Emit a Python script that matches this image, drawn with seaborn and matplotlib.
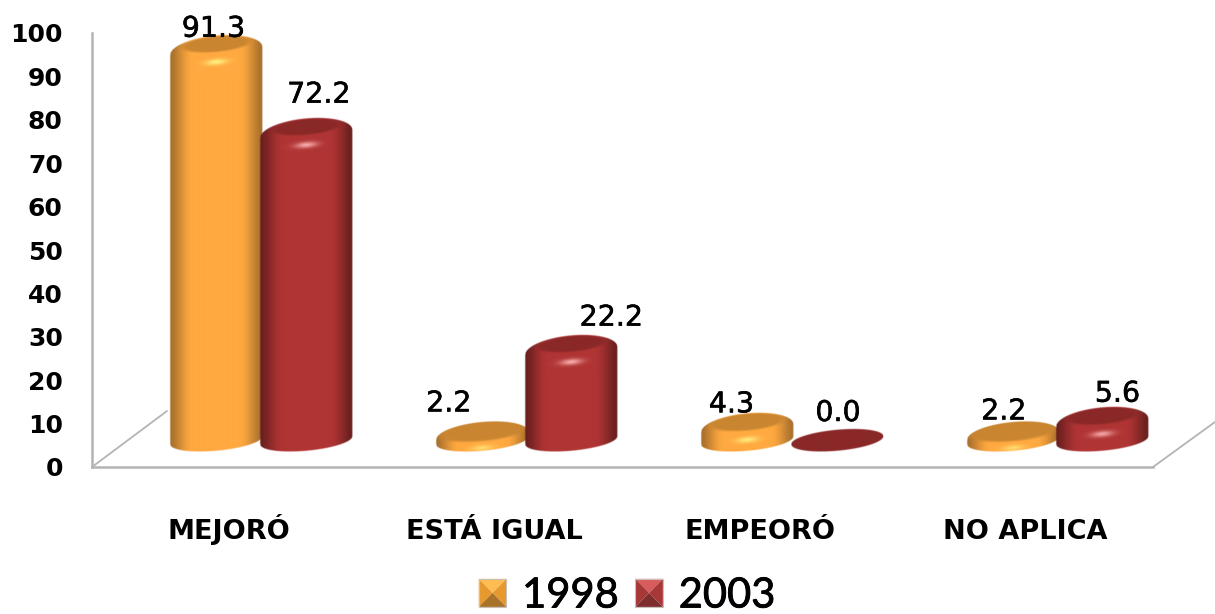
import numpy as np
import pandas as pd
import matplotlib
matplotlib.use("Agg")
import matplotlib.pyplot as plt
import matplotlib.patheffects as pe
from matplotlib.colors import to_rgb
from matplotlib.lines import Line2D
from matplotlib.patches import Polygon, Rectangle, Patch
from matplotlib.legend_handler import HandlerBase
from matplotlib.transforms import Affine2D
import seaborn as sns

categories = ["MEJORÓ", "ESTÁ IGUAL", "EMPEORÓ", "NO APLICA"]
years = ["1998", "2003"]
values_1998 = [91.3, 2.2, 4.3, 2.2]
values_2003 = [72.2, 22.2, 0.0, 5.6]
y_ticks = [0, 10, 20, 30, 40, 50, 60, 70, 80, 90, 100]

# label nudges in pixels (dx, dy up) from the top of each cylinder
nudges = {"1998": [(-3, 15), (-33, 27), (-16, 17), (-9, 19)],
          "2003": [(13, 32), (40, 26), (1, 27), (15, 22)]}

STYLE = {
    "1998": dict(center="#FFA940", edge="#A8702C", cap="#C98530", glow="#FFEE80",
                 top="#FFBC50", side="#E8992E", bottom="#A97229"),
    "2003": dict(center="#B03434", edge="#6A1F1F", cap="#8A2828", glow="#F8A8A8",
                 top="#D85C5C", side="#A83838", bottom="#7E2C2C"),
}
GRAY = "#B4B4B4"
W, H = 1215, 614

sns.set_theme(style="white")
plt.rcParams["font.family"] = ["DejaVu Sans"]
plt.rcParams["text.color"] = "black"
plt.rcParams["xtick.color"] = "black"
plt.rcParams["ytick.color"] = "black"

fig = plt.figure(figsize=(W / 100, H / 100), dpi=100)
px = Affine2D().scale(1 / W, -1 / H).translate(0, 1) + fig.transFigure

# front frame: value axis and category axis
frame = fig.add_axes([92 / W, (H - 467) / H, 1061 / W, 434 / H])
frame.set_xlim(-0.517, 3.483)
frame.set_ylim(0, 100)
frame.set_yticks(y_ticks)
frame.set_xticks(range(len(categories)))
frame.set_xticklabels(categories, fontsize=19.5, fontweight="bold", va="baseline")
frame.set_yticklabels([str(t) for t in y_ticks], fontsize=18, fontweight="bold")
frame.tick_params(axis="y", length=0, pad=21)
frame.tick_params(axis="x", length=0, pad=52)
for s in ("top", "right"):
    frame.spines[s].set_visible(False)
for s in ("left", "bottom"):
    frame.spines[s].set_color(GRAY)
    frame.spines[s].set_linewidth(1.8)
frame.patch.set_alpha(0)
for pts in ([(92, 467), (167, 411)], [(1153, 467), (1215, 422)]):
    fig.add_artist(Line2D(*zip(*pts), transform=px, color=GRAY, lw=1.3))

# cylinders: seaborn lays out the bars, they are then shaded
ax = fig.add_axes([128.5 / W, (H - 440) / H, 1062 / W, 434 / H])
ax.patch.set_alpha(0)
ax.axis("off")
df = pd.DataFrame({
    "category": categories * 2,
    "year": [years[0]] * 4 + [years[1]] * 4,
    "value": values_1998 + values_2003,
})
sns.barplot(data=df, x="category", y="value", hue="year", hue_order=years,
            order=categories, width=0.675, gap=0, legend=False, ax=ax)
ax.set_xlim(-0.5, 3.5)
ax.set_ylim(0, 100)
PX_X = 1062 / 4
PX_Y = 4.34
B, SLOPE = 10.5, 0.087


def smooth(t):
    t = np.clip(t, 0, 1)
    return t * t * (3 - 2 * t)


def cylinder(bar, st, z):
    a = bar.get_width() * PX_X / 2 + 1.5
    T = bar.get_height() * PX_Y
    cx = bar.get_x() + bar.get_width() / 2
    k = np.exp(-T / 8)
    pad = 3
    ymin, ymax = -B - a * SLOPE - pad, T + B + a * SLOPE + pad + 4
    xs = np.arange(-a - pad, a + pad + 0.5, 0.5)
    ys = np.arange(ymin, ymax + 0.5, 0.5)
    X, Y = np.meshgrid(xs, ys)
    u = X / a
    yy = Y - SLOPE * X
    arc = B * np.sqrt(np.clip(1 - u ** 2, 0, 1))
    top_b = B + 5 * (1 - k)
    top_c = T - 7 * (1 - k)
    arc_top = top_b * np.sqrt(np.clip(1 - u ** 2, 0, 1))
    alpha = (smooth((a - np.abs(X)) / 1.2 + 0.5)
             * smooth((yy + arc) / 1.2 + 0.5)
             * smooth((top_c + arc_top - yy) / 1.2 + 0.5))
    f = smooth((1 - np.abs(u)) / 0.5) ** 0.8
    c0, c1 = np.array(to_rgb(st["center"])), np.array(to_rgb(st["edge"]))
    rgb = c1[None, None] + (c0 - c1)[None, None] * f[..., None]
    s = 1 + k
    d = np.sqrt((u / (0.72 * s)) ** 2 + ((yy - T) / (7.5 * s)) ** 2)
    cap = smooth((1.2 - d) / 0.35)[..., None]
    capc = np.array(to_rgb(st["cap"]))
    rgb = rgb * (1 - cap) + capc[None, None] * cap
    glow_y = max(T - 18, -B * 0.72)
    glow = (1 - k) * np.exp(-(u / 0.24) ** 2 - ((yy - glow_y) / 3.0) ** 2)
    rgb = rgb * (1 - glow[..., None]) + np.array(to_rgb(st["glow"]))[None, None] * glow[..., None]
    img = np.dstack([np.clip(rgb, 0, 1), alpha])
    ext = (cx + xs[0] / PX_X, cx + xs[-1] / PX_X, ymin / PX_Y, ymax / PX_Y)
    ax.imshow(img, origin="lower", extent=ext, aspect="auto", zorder=z,
              clip_on=False, interpolation="bilinear")
    bar.set_visible(False)


for yr, container in zip(years, ax.containers):
    for i, bar in enumerate(container):
        z = 2 if yr == years[1] and bar.get_height() == 0 else (4 if yr == years[1] else 3)
        cylinder(bar, STYLE[yr], z)
        dx, dy = nudges[yr][i]
        lab = ax.annotate(f"{bar.get_height():.1f}",
                          (bar.get_x() + bar.get_width() / 2, bar.get_height()),
                          xytext=(dx * 0.72, dy * 0.72), textcoords="offset points",
                          ha="center", va="center", fontsize=20.5, color="black",
                          annotation_clip=False, zorder=6)
        lab.set_path_effects([pe.withStroke(linewidth=0.4, foreground="black")])
ax.set_xlim(-0.5, 3.5)
ax.set_ylim(0, 100)


class Pyramid(HandlerBase):
    def create_artists(self, legend, orig, xd, yd, w, h, fs, trans):
        st = STYLE[orig.get_label()]
        x0, y0 = -xd, -yd
        x1, y1 = x0 + w, y0 + h
        cxp, cyp = (x0 + x1) / 2, (y0 + y1) / 2
        faces = [
            ([(x0, y1), (x1, y1), (cxp, cyp)], st["top"]),
            ([(x0, y0), (x0, y1), (cxp, cyp)], st["side"]),
            ([(x1, y0), (x1, y1), (cxp, cyp)], st["side"]),
            ([(x0, y0), (x1, y0), (cxp, cyp)], st["bottom"]),
        ]
        arts = [Polygon(p, closed=True, facecolor=c, edgecolor="none", transform=trans)
                for p, c in faces]
        arts.append(Rectangle((x0, y0), w, h, fill=False, edgecolor="#C8C0B8", lw=0.8, transform=trans))
        return arts


handles = [Patch(label=y) for y in years]
leg = fig.legend(handles=handles, labels=years, handler_map={Patch: Pyramid()},
                 loc="center", bbox_to_anchor=(627 / W, (H - 595.5) / H), ncol=2,
                 frameon=False, prop=dict(size=30, family="Lato"),
                 handlelength=0.66, handleheight=0.66, handletextpad=0.38,
                 columnspacing=0.4, borderpad=0, borderaxespad=0)
for t in leg.get_texts():
    t.set_color("black")
    t.set_path_effects([pe.withStroke(linewidth=0.6, foreground="black")])

fig.savefig("out.png", dpi=100, facecolor="white")
